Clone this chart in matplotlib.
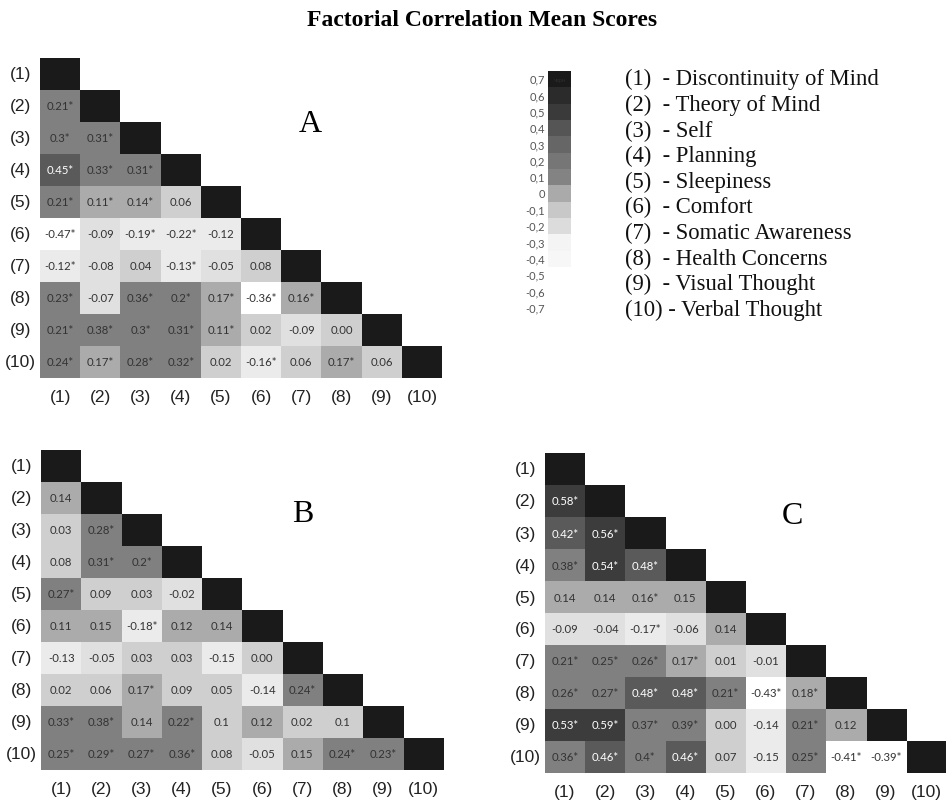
import numpy as np
import matplotlib
matplotlib.use('Agg')
import matplotlib.pyplot as plt
from matplotlib.colors import ListedColormap, BoundaryNorm

W, H = 946, 804

factor_labels = ['(1)', '(2)', '(3)', '(4)', '(5)', '(6)', '(7)', '(8)', '(9)', '(10)']
factor_names = ['Discontinuity of Mind', 'Theory of Mind', 'Self', 'Planning',
                'Sleepiness', 'Comfort', 'Somatic Awareness', 'Health Concerns',
                'Visual Thought', 'Verbal Thought']

# lower triangle, rows (2)..(10); "*" = significant
rows_A = [
    ['0.21*'],
    ['0.3*', '0.31*'],
    ['0.45*', '0.33*', '0.31*'],
    ['0.21*', '0.11*', '0.14*', '0.06'],
    ['-0.47*', '-0.09', '-0.19*', '-0.22*', '-0.12'],
    ['-0.12*', '-0.08', '0.04', '-0.13*', '-0.05', '0.08'],
    ['0.23*', '-0.07', '0.36*', '0.2*', '0.17*', '-0.36*', '0.16*'],
    ['0.21*', '0.38*', '0.3*', '0.31*', '0.11*', '0.02', '-0.09', '0.00'],
    ['0.24*', '0.17*', '0.28*', '0.32*', '0.02', '-0.16*', '0.06', '0.17*', '0.06'],
]
rows_B = [
    ['0.14'],
    ['0.03', '0.28*'],
    ['0.08', '0.31*', '0.2*'],
    ['0.27*', '0.09', '0.03', '-0.02'],
    ['0.11', '0.15', '-0.18*', '0.12', '0.14'],
    ['-0.13', '-0.05', '0.03', '0.03', '-0.15', '0.00'],
    ['0.02', '0.06', '0.17*', '0.09', '0.05', '-0.14', '0.24*'],
    ['0.33*', '0.38*', '0.14', '0.22*', '0.1', '0.12', '0.02', '0.1'],
    ['0.25*', '0.29*', '0.27*', '0.36*', '0.08', '-0.05', '0.15', '0.24*', '0.23*'],
]
rows_C = [
    ['0.58*'],
    ['0.42*', '0.56*'],
    ['0.38*', '0.54*', '0.48*'],
    ['0.14', '0.14', '0.16*', '0.15'],
    ['-0.09', '-0.04', '-0.17*', '-0.06', '0.14'],
    ['0.21*', '0.25*', '0.26*', '0.17*', '0.01', '-0.01'],
    ['0.26*', '0.27*', '0.48*', '0.48*', '0.21*', '-0.43*', '0.18*'],
    ['0.53*', '0.59*', '0.37*', '0.39*', '0.00', '-0.14', '0.21*', '0.12'],
    ['0.36*', '0.46*', '0.4*', '0.46*', '0.07', '-0.15', '0.25*', '-0.41*', '-0.39*'],
]

cbar_levels = [0.7, 0.6, 0.5, 0.4, 0.3, 0.2, 0.1, 0.0, -0.1, -0.2, -0.3, -0.4]
cbar_labels = ['0,7', '0,6', '0,5', '0,4', '0,3', '0,2', '0,1', '0',
               '-0,1', '-0,2', '-0,3', '-0,4', '-0,5', '-0,6', '-0,7']

cell_bounds = [-1.0, -0.295, -0.095, -0.005, 0.105, 0.195, 0.405, 0.495, 0.95, 1.05]
cell_colors = ['#ffffff', '#ebebeb', '#e0e0e0', '#cfcfcf', '#ababab',
               '#808080', '#5a5a5a', '#3c3c3c', '#1a1a1a']
cbar_colors = ['#f7f7f7', '#f4f4f4', '#dcdcdc', '#c8c8c8', '#aaaaaa', '#838383',
               '#767676', '#666666', '#555555', '#3a3a3a', '#2b2b2b', '#1a1a1a']

plt.rcParams['font.family'] = ['Liberation Sans', 'DejaVu Sans']


def px_axes(fig, x0, y0, x1, y1):
    return fig.add_axes([x0 / W, 1 - y1 / H, (x1 - x0) / W, (y1 - y0) / H])


def to_matrix(rows):
    m = np.full((10, 10), np.nan)
    for i in range(10):
        m[i, i] = 1.0
    for i, row in enumerate(rows, start=1):
        for j, s in enumerate(row):
            m[i, j] = float(s.rstrip('*'))
    return m


def draw_matrix(ax, rows, letter, letter_xy):
    m = to_matrix(rows)
    cmap = ListedColormap(cell_colors)
    cmap.set_bad((1, 1, 1, 0))
    norm = BoundaryNorm(cell_bounds, cmap.N)
    ax.imshow(np.ma.masked_invalid(m), cmap=cmap, norm=norm,
              aspect='auto', interpolation='nearest')
    ax.set_xlim(-0.5, 9.5)
    ax.set_ylim(9.5, -0.5)
    ax.axis('off')

    for i, row in enumerate(rows, start=1):
        for j, s in enumerate(row):
            col = 'white' if m[i, j] > 0.405 else '#333333'
            ax.text(j, i, s, ha='center', va='center', fontsize=8.2,
                    color=col, family=['Lato', 'DejaVu Sans'])

    for k, lab in enumerate(factor_labels):
        ax.annotate(lab, xy=(k, 0), xycoords=('data', 'axes fraction'),
                    xytext=(0, -13), textcoords='offset points',
                    ha='center', va='center', fontsize=12.5, color='#222222')
        ax.annotate(lab, xy=(0, k), xycoords=('axes fraction', 'data'),
                    xytext=(-14, 0), textcoords='offset points',
                    ha='center', va='center', fontsize=12.5, color='#222222')

    fig = ax.figure
    fig.text(letter_xy[0] / W, 1 - letter_xy[1] / H, letter, ha='center',
             va='baseline', fontsize=23, family='Liberation Serif')


fig = plt.figure(figsize=(W / 100, H / 100), dpi=100)

fig.text(482.5 / W, 1 - 26 / H, 'Factorial Correlation Mean Scores',
         ha='center', va='baseline', fontsize=17, fontweight='bold',
         family='Liberation Serif')

axA = px_axes(fig, 40, 59, 442, 379)
draw_matrix(axA, rows_A, 'A', (310, 131.5))
axB = px_axes(fig, 41, 451, 443, 771)
draw_matrix(axB, rows_B, 'B', (303, 522.5))
axC = px_axes(fig, 545, 454, 946, 774)
draw_matrix(axC, rows_C, 'C', (792, 523.5))

# colour scale
axK = px_axes(fig, 548, 72, 571, 268)
axK.imshow(np.array(cbar_levels).reshape(-1, 1), cmap=ListedColormap(cbar_colors),
           vmin=-0.45, vmax=0.75, aspect='auto', interpolation='nearest')
axK.set_xlim(-0.5, 0.5)
axK.set_ylim(len(cbar_levels) - 0.5, -0.5)
axK.axis('off')
for k, lab in enumerate(cbar_labels):
    axK.annotate(lab, xy=(0, k), xycoords=('axes fraction', 'data'),
                 xytext=(-2, 0), textcoords='offset points', ha='right',
                 va='center', fontsize=8, color='#555555',
                 family=['Lato', 'DejaVu Sans'], annotation_clip=False)
axK.text(0, 0, 'черн', ha='center', va='center', fontsize=4, color='#2e2e2e')

# factor legend
for k, (lab, name) in enumerate(zip(factor_labels, factor_names)):
    sep = ' - ' if len(lab) > 3 else '  - '
    fig.text(625 / W, 1 - (85.5 + 25.6 * k) / H, lab + sep + name,
             ha='left', va='baseline', fontsize=16.3, color='#111111',
             family='Liberation Serif')

fig.savefig('out.png', dpi=100)
